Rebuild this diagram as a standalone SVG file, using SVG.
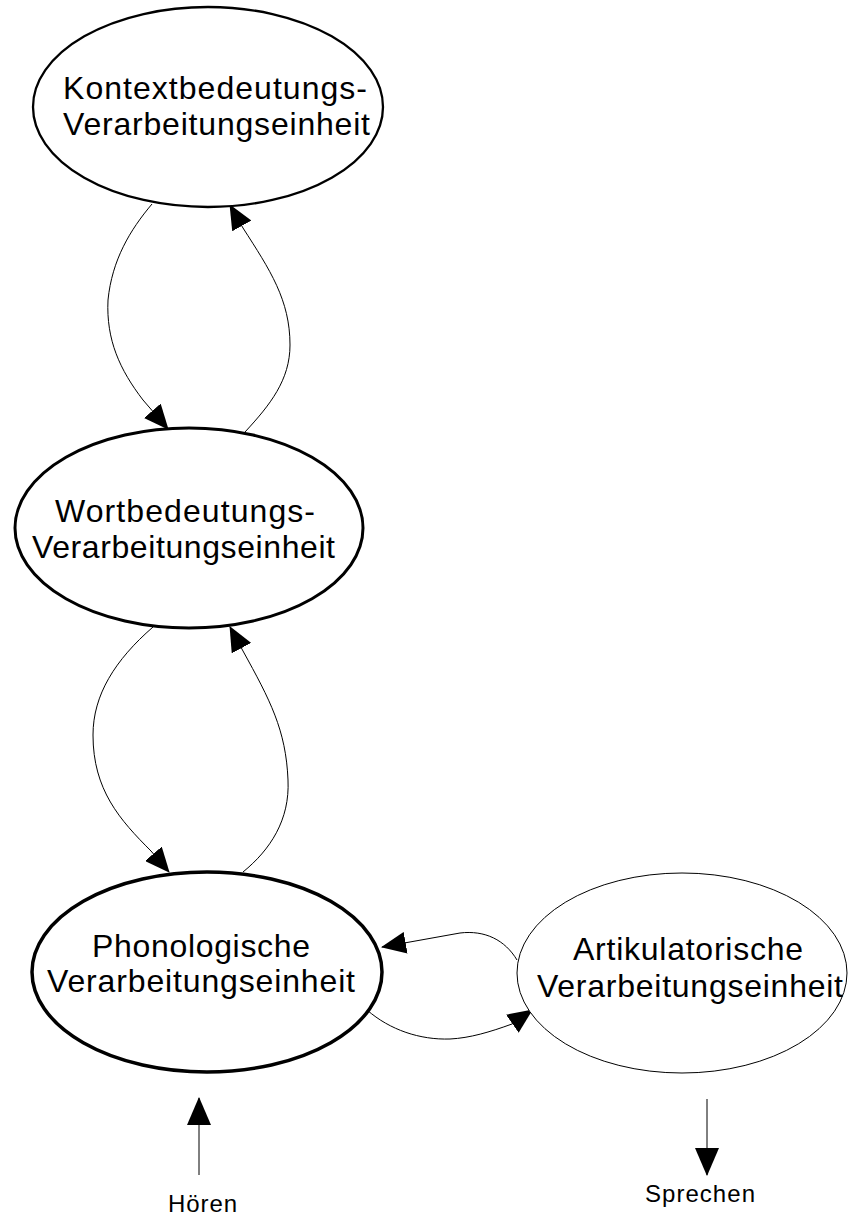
<svg xmlns="http://www.w3.org/2000/svg" width="848" height="1223" viewBox="0 0 848 1223">
<style>
.n{fill:#fff;stroke:#000}
.t{font-family:"Liberation Sans",Arial,sans-serif;font-size:32px;fill:#000}
.s{font-family:"Liberation Sans",Arial,sans-serif;font-size:24px;fill:#000}
.c{fill:none;stroke:#000;stroke-width:1}
</style>
<defs>
<marker id="ah" markerUnits="userSpaceOnUse" viewBox="0 0 25 22" refX="24" refY="11" markerWidth="25" markerHeight="22" orient="auto">
<path d="M0,0 L25,11 L0,22 Z" fill="#000"/>
</marker>
<marker id="ahL" markerUnits="userSpaceOnUse" viewBox="0 0 28 24" refX="27" refY="12" markerWidth="28" markerHeight="24" orient="auto">
<path d="M0,0 L28,12 L0,24 Z" fill="#000"/>
</marker>
</defs>
<rect width="848" height="1223" fill="#fff"/>
<g id="connectors">
<path class="c" d="M152,204 C130,230 112,260 108,300 C106,340 120,370 143,400 L168,429" marker-end="url(#ah)"/>
<path class="c" d="M245,432 C270,405 290,380 290,345 C290,300 270,270 243,228 L230,205" marker-end="url(#ah)"/>
<path class="c" d="M153,627 C115,660 93,695 93,735 C93,790 120,820 151,851 L169,872" marker-end="url(#ah)"/>
<path class="c" d="M243,872 C270,850 290,820 288,780 C286,730 270,700 243,651 L230,627" marker-end="url(#ah)"/>
<path class="c" d="M517,960 C505,940 485,930 460,933 L382,947" marker-end="url(#ah)"/>
<path class="c" d="M367,1010 C390,1030 420,1040 450,1039 C470,1038 490,1032 512,1024 L532,1010" marker-end="url(#ah)"/>
<path class="c" d="M199,1175 L199,1098" marker-end="url(#ahL)"/>
<path class="c" d="M707,1099 L707,1175" marker-end="url(#ahL)"/>
</g>
<g id="kontext">
<ellipse class="n" cx="208" cy="107" rx="175" ry="100" stroke-width="2.3"/>
<text class="t" x="63" y="99" textLength="304" lengthAdjust="spacing">Kontextbedeutungs-</text>
<text class="t" x="63" y="135" textLength="307" lengthAdjust="spacing">Verarbeitungseinheit</text>
</g>
<g id="wort">
<ellipse class="n" cx="189" cy="528" rx="174" ry="100" stroke-width="3"/>
<text class="t" x="55" y="522" textLength="260" lengthAdjust="spacing">Wortbedeutungs-</text>
<text class="t" x="32" y="558" textLength="303" lengthAdjust="spacing">Verarbeitungseinheit</text>
</g>
<g id="phono">
<ellipse class="n" cx="207" cy="972" rx="175" ry="100" stroke-width="3.5"/>
<text class="t" x="92" y="957" textLength="218" lengthAdjust="spacing">Phonologische</text>
<text class="t" x="47" y="992" textLength="308" lengthAdjust="spacing">Verarbeitungseinheit</text>
</g>
<g id="artik">
<ellipse class="n" cx="682" cy="973" rx="165" ry="100" stroke-width="1"/>
<text class="t" x="573" y="960" textLength="230" lengthAdjust="spacing">Artikulatorische</text>
<text class="t" x="537" y="997" textLength="306" lengthAdjust="spacing">Verarbeitungseinheit</text>
</g>
<g id="hoeren">
<text class="s" x="168" y="1212" textLength="69" lengthAdjust="spacing">Hören</text>
</g>
<g id="sprechen">
<text class="s" x="645" y="1202" textLength="110" lengthAdjust="spacing">Sprechen</text>
</g>
</svg>
